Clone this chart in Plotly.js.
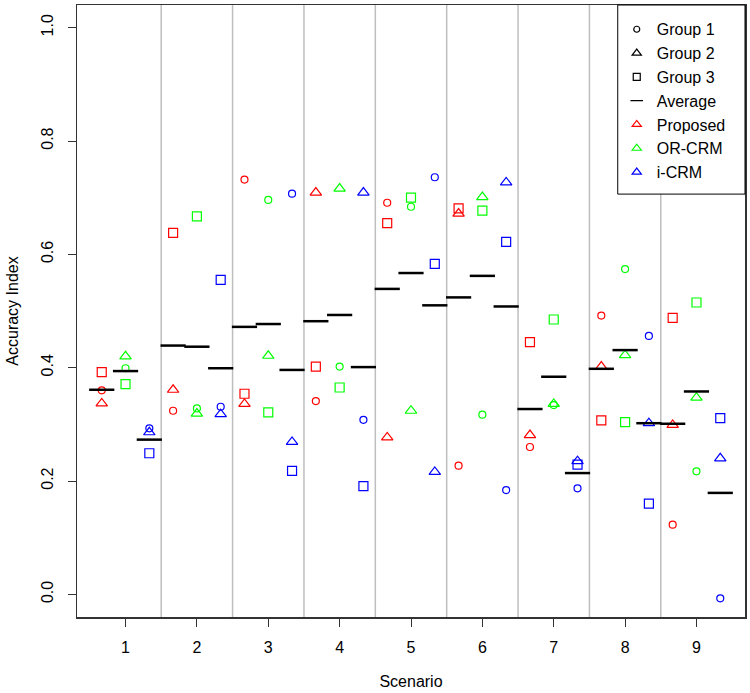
<!DOCTYPE html>
<html>
<head>
<meta charset="utf-8">
<script src="https://cdn.plot.ly/plotly-3.0.1.min.js"></script>
<style>html,body{margin:0;padding:0;background:#fff}#chart{width:750px;height:693px}</style>
</head>
<body>
<div id="chart"></div>
<script>
// ---- data ----
const scenarios = [1, 2, 3, 4, 5, 6, 7, 8, 9];
const methods = ["Proposed", "OR-CRM", "i-CRM"];

const proposedG1 = [0.360, 0.324, 0.732, 0.341, 0.691, 0.227, 0.260, 0.492, 0.123];
const proposedG2 = [0.337, 0.361, 0.336, 0.709, 0.277, 0.672, 0.281, 0.402, 0.299];
const proposedG3 = [0.392, 0.638, 0.354, 0.402, 0.655, 0.681, 0.445, 0.307, 0.488];
const proposedAvg = [0.361, 0.439, 0.472, 0.482, 0.539, 0.524, 0.327, 0.398, 0.301];

const orcrmG1 = [0.399, 0.328, 0.696, 0.402, 0.684, 0.317, 0.334, 0.574, 0.217];
const orcrmG2 = [0.420, 0.319, 0.421, 0.716, 0.324, 0.701, 0.336, 0.422, 0.347];
const orcrmG3 = [0.371, 0.667, 0.321, 0.365, 0.700, 0.677, 0.485, 0.304, 0.515];
const orcrmAvg = [0.394, 0.437, 0.477, 0.493, 0.567, 0.562, 0.384, 0.431, 0.358];

const icrmG1 = [0.293, 0.331, 0.707, 0.308, 0.736, 0.184, 0.187, 0.456, -0.007];
const icrmG2 = [0.286, 0.318, 0.269, 0.709, 0.216, 0.727, 0.235, 0.302, 0.240];
const icrmG3 = [0.249, 0.555, 0.218, 0.191, 0.583, 0.622, 0.229, 0.160, 0.311];
const icrmAvg = [0.273, 0.399, 0.396, 0.401, 0.510, 0.508, 0.214, 0.302, 0.179];

const yTickVals = [0.0, 0.2, 0.4, 0.6, 0.8, 1.0];
const yTickText = ["0.0", "0.2", "0.4", "0.6", "0.8", "1.0"];

// ---- styling ----
const FONT = "Liberation Sans, Arial, sans-serif";
const colors = ["#FF0000", "#00FF00", "#0000FF"];
const offsets = [-1/3, 0, 1/3];
const series = [
  [proposedG1, proposedG2, proposedG3, proposedAvg],
  [orcrmG1, orcrmG2, orcrmG3, orcrmAvg],
  [icrmG1, icrmG2, icrmG3, icrmAvg]
];
const groupSymbols = ["circle-open", "triangle-up-open", "square-open"];
const groupSizes = [7, 10, 9];

const traces = [];
series.forEach((s, m) => {
  const xs = scenarios.map(v => v + offsets[m]);
  for (let g = 0; g < 3; g++) {
    traces.push({
      type: "scatter", mode: "markers", x: xs, y: s[g], showlegend: false,
      hoverinfo: "x+y",
      marker: {symbol: groupSymbols[g], size: groupSizes[g], color: colors[m],
               line: {color: colors[m], width: 1.2}}
    });
  }
  traces.push({
    type: "scatter", mode: "markers", x: xs, y: s[3], showlegend: false,
    marker: {symbol: "line-ew-open", size: 18, color: "#000", line: {color: "#000", width: 2.5}}
  });
});

// legend entries
const legendItems = [
  {name: "Group 1", symbol: "circle-open", size: 6, color: "#000"},
  {name: "Group 2", symbol: "triangle-up-open", size: 8, color: "#000"},
  {name: "Group 3", symbol: "square-open", size: 7, color: "#000"},
  {name: "Average", symbol: "line-ew-open", size: 9, color: "#000"},
  {name: methods[0], symbol: "triangle-up-open", size: 8, color: colors[0]},
  {name: methods[1], symbol: "triangle-up-open", size: 8, color: colors[1]},
  {name: methods[2], symbol: "triangle-up-open", size: 8, color: colors[2]}
];
legendItems.forEach((it, i) => {
  traces.push({
    type: "scatter", mode: "markers", x: [null], y: [null], name: it.name,
    legendgroup: "g" + i, showlegend: true,
    marker: {symbol: it.symbol, size: it.size, color: it.color, line: {color: it.color, width: 1.2}}
  });
});

const shapes = scenarios.slice(0, -1).map(v => ({
  type: "line", xref: "x", yref: "paper", x0: v + 0.5, x1: v + 0.5, y0: 0, y1: 1,
  line: {color: "#BEBEBE", width: 1.5}, layer: "below"
}));
// legend frame
shapes.push({
  type: "rect", xref: "paper", yref: "paper",
  x0: 0.8095, x1: 1, y0: 0.691, y1: 1,
  fillcolor: "#fff", line: {color: "#000", width: 1}, layer: "above"
});

const layout = {
  width: 750, height: 693,
  margin: {l: 77, r: 5, t: 5, b: 76},
  paper_bgcolor: "#fff", plot_bgcolor: "#fff",
  font: {family: FONT, size: 16, color: "#000"},
  showlegend: true,
  legend: {
    x: 0.808, y: 0.988, xanchor: "left", yanchor: "top",
    borderwidth: 0, bgcolor: "rgba(0,0,0,0)",
    font: {family: FONT, size: 16, color: "#000"},
    tracegroupgap: 2, traceorder: "normal"
  },
  xaxis: {
    range: [2/3 - 0.3467, 28/3 + 0.3467],
    tickvals: scenarios, ticktext: scenarios.map(String),
    ticks: "outside", ticklen: 8, tickwidth: 1, tickcolor: "#333",
    ticklabelstandoff: 7,
    showgrid: false, zeroline: false,
    showline: true, mirror: true, linecolor: "#333", linewidth: 1.5,
    title: {text: "Scenario", font: {family: FONT, size: 16}, standoff: 21}
  },
  yaxis: {
    range: [-0.04, 1.04],
    tickvals: yTickVals, ticktext: yTickText, tickangle: -90,
    ticks: "outside", ticklen: 8, tickwidth: 1, tickcolor: "#333",
    ticklabelstandoff: 8,
    showgrid: false, zeroline: false,
    showline: true, mirror: true, linecolor: "#333", linewidth: 1.5,
    title: {text: "Accuracy Index", font: {family: FONT, size: 16}, standoff: 16}
  },
  shapes: shapes
};

Plotly.newPlot("chart", traces, layout, {displayModeBar: false, staticPlot: true});
</script>
</body>
</html>
